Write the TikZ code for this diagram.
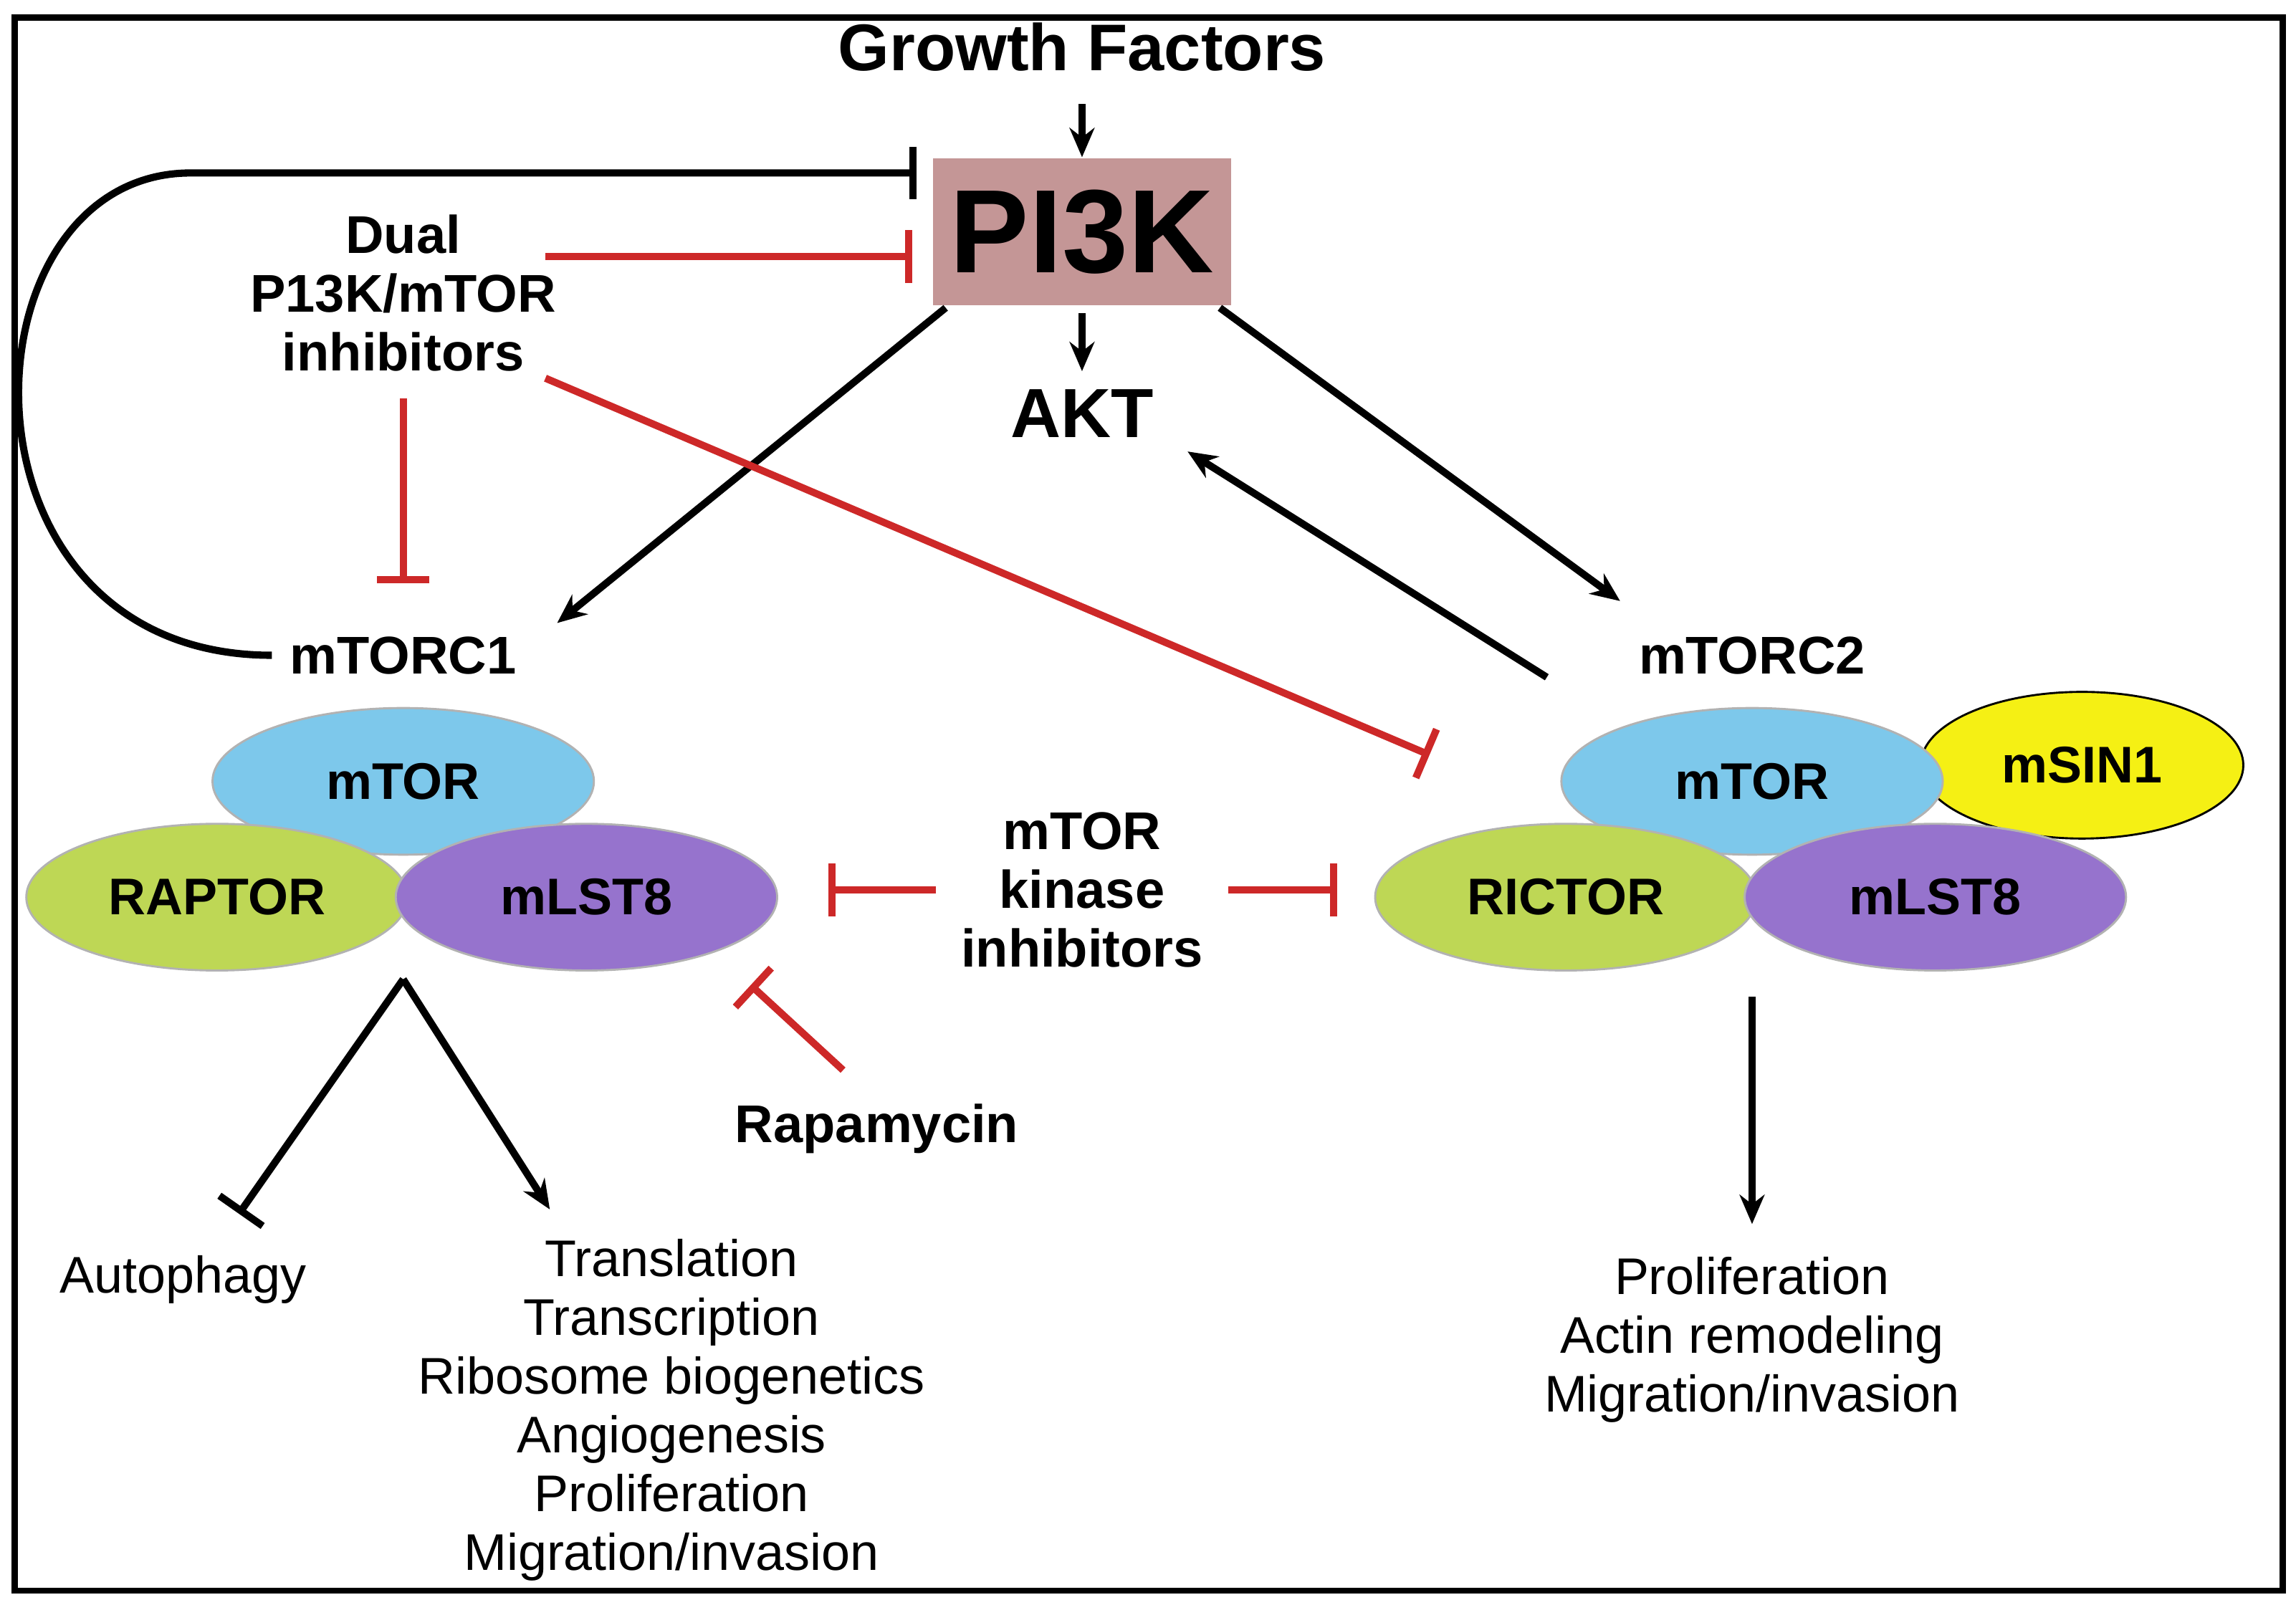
\documentclass[tikz,border=0pt]{standalone}
\usepackage{fontspec}
\setmainfont{Liberation Sans}
\usetikzlibrary{arrows.meta,shapes.geometric}
\definecolor{pikbox}{RGB}{196,150,150}
\definecolor{torblue}{RGB}{125,200,235}
\definecolor{raptgreen}{RGB}{190,215,85}
\definecolor{lstpurple}{RGB}{150,115,205}
\definecolor{sinyellow}{RGB}{245,240,20}
\definecolor{inhred}{RGB}{205,40,40}
\tikzset{
  act/.style={-{Stealth[length=0.2cm,width=0.17cm]},line width=1.4pt},
  inh/.style={-{Bar[width=0.36cm]},line width=1.4pt},
  redinh/.style={inh,color=inhred},
  lab/.style={font=\bfseries\fontsize{10.3}{11.4}\selectfont,align=center},
  txt/.style={font=\fontsize{10}{11.4}\selectfont,align=center},
  prot/.style={ellipse,draw=gray!60,minimum width=2.6cm,minimum height=1.0cm,font=\bfseries\fontsize{10}{12}\selectfont}
}
\begin{document}
\begin{tikzpicture}[x=0.01cm,y=-0.01cm]
\useasboundingbox (0,0) rectangle (1566,1098);
% frame
\draw[line width=1.2pt] (10,12) rectangle (1557,1085);
% top
\node[lab,font=\bfseries\fontsize{12.8}{15}\selectfont] (gf) at (738,32) {Growth Factors};
\node[fill=pikbox,minimum width=1.87cm,minimum height=1.0cm,font=\bfseries\fontsize{23}{26}\selectfont] (pik) at (738,158) {PI3K};
\node[lab,font=\bfseries\fontsize{13.5}{15}\selectfont] (akt) at (738,282) {AKT};
\node[lab] (dual) at (275,200) {Dual\\P13K/mTOR\\inhibitors};
\node[lab] (c1) at (275,447) {mTORC1};
\node[lab] (c2) at (1195,447) {mTORC2};
% mTORC1 complex
\node[prot,fill=torblue] (tor1) at (275,533) {mTOR};
\node[prot,fill=raptgreen] (rap) at (148,612) {RAPTOR};
\node[prot,fill=lstpurple] (lst1) at (400,612) {mLST8};
% mTORC2 complex
\node[prot,fill=sinyellow,minimum width=2.2cm,draw=black] (sin) at (1420,522) {mSIN1};
\node[prot,fill=torblue] (tor2) at (1195,533) {mTOR};
\node[prot,fill=raptgreen] (ric) at (1068,612) {RICTOR};
\node[prot,fill=lstpurple] (lst2) at (1320,612) {mLST8};
% inhibitors
\node[lab] (kin) at (738,607) {mTOR\\kinase\\inhibitors};
\node[lab] (rapa) at (598,770) {Rapamycin};
% outputs
\node[txt] (auto) at (125,873) {Autophagy};
\node[txt] (out1) at (458,962) {Translation\\Transcription\\Ribosome biogenetics\\Angiogenesis\\Proliferation\\Migration/invasion};
\node[txt] (out2) at (1195,914) {Proliferation\\Actin remodeling\\Migration/invasion};
% free ends
\coordinate (split1) at (275,668);
\coordinate (autoend) at (163,828);
\coordinate (out1end) at (375,825);
\coordinate (fbend) at (625,118);
\coordinate (tor1bar) at (275,398);
\coordinate (ric_bar) at (975,515);
\coordinate (lstbar) at (565,607);
\coordinate (ricbar) at (912,607);
\coordinate (rapbar) at (512,672);
% black arrows
\draw[act] (gf.south) ++(0,10) -- (pik.north);
\draw[act] (pik.south) ++(0,5) -- (akt.north);
\draw[act] (645,210) -- (380,425);
\draw[act] (832,210) -- (1105,410);
\draw[act] (1055,462) -- (810,308);
\draw[act] (1195,680) -- (1195,835);
\draw[inh] (split1) -- (autoend);
\draw[act] (split1) -- (out1end);
% feedback mTORC1 -> PI3K
\draw[inh] (c1.west) .. controls (-40,447) and (-30,118) .. (130,118) -- (fbend);
% red inhibitions
\draw[redinh] (372,175) -- (622,175);
\draw[redinh] (275,272) -- (tor1bar);
\draw[redinh] (372,258) -- (ric_bar);
\draw[redinh] (kin.west) ++(-5,0) -- (lstbar);
\draw[redinh] (kin.east) ++(5,0) -- (ricbar);
\draw[redinh] (575,730) -- (rapbar);
\end{tikzpicture}
\end{document}
